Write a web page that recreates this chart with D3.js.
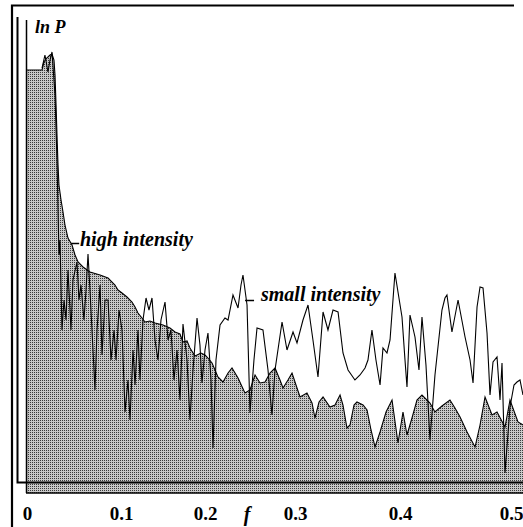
<!DOCTYPE html>
<html><head><meta charset="utf-8">
<script src="https://cdn.jsdelivr.net/npm/d3@7"></script>
<style>
html,body{margin:0;padding:0;background:#fff;}
svg{display:block;}
svg text{font-family:"Liberation Serif","DejaVu Serif",serif !important;}
</style></head>
<body>
<script>
// ---- data ----
const xTicks = [0, 0.1, 0.2, 0.3, 0.4, 0.5];
const xTickLabels = ["0", "0.1", "0.2", "0.3", "0.4", "0.5"];

const highF = [0,.016,.018,.021,.0245,.0266,.0287,.0298,.0309,.0319,.033,.034,.0362,.0383,.0404,.0436,.0479,.0511,.0543,.0596,.067,.0777,.0862,.0936,.0968,
 .1012,.1071,.1131,.1167,.1202,.125,.1286,.1345,.1405,.15,.1583,.1643,.1702,.1738,.1786,.1821,.1881,.1952,
 .2,.2033,.2078,.2144,.22,.2256,.23,.2367,.2444,.25,.2556,.2611,.2667,.2722,.2778,.2833,.2867,.2922,.2967,
 .3019,.3048,.3114,.3162,.319,.3229,.3267,.3333,.3381,.3429,.3457,.3495,.3524,.3562,.359,.3648,.3686,.3724,.3762,.381,.3867,.3924,.3981,
 .4027,.4063,.4108,.4153,.4198,.427,.4315,.4378,.445,.4495,.4541,.4604,.4676,.4721,.4766,.4829,.4874,.4946,.4991,.5063,.5108];
const highLnP = [8.46,8.46,8.62,8.70,8.76,8.78,8.66,8.36,7.76,7.16,6.56,6.16,5.86,5.62,5.36,5.10,4.96,4.76,4.62,4.52,4.42,4.36,4.30,4.16,4.06,
 4.00,3.92,3.82,3.72,3.60,3.50,3.42,3.44,3.40,3.36,3.30,3.22,3.18,3.02,3.04,2.90,2.74,2.80,
 2.76,2.70,2.60,2.32,2.22,2.40,2.50,2.30,2.00,2.06,2.36,2.20,2.22,2.40,2.50,2.26,2.10,2.26,2.40,
 2.10,1.92,2.00,1.80,1.50,1.82,1.92,1.72,1.76,1.96,1.76,1.30,1.36,1.76,1.82,1.76,1.66,1.26,0.92,1.22,1.62,1.86,1.00,
 1.62,1.16,1.50,1.86,1.96,1.80,1.62,1.74,1.86,1.70,1.52,1.22,0.92,1.36,1.92,1.56,1.62,1.32,1.86,1.42,1.36];

const smallF = [.016,.0191,.0223,.0245,.0266,.0298,.0319,.034,.0351,.0372,.0394,.0415,.0436,.0468,.0489,.0532,.0553,.0574,.0606,.0628,.0649,.067,.0702,.0723,.0745,.0777,.0798,.083,.0862,.0894,.0926,.0947,.0979,
 .1012,.1048,.1083,.1107,.1143,.1167,.1202,.1226,.1262,.1298,.1333,.1369,.1405,.144,.1476,.1524,.156,.1595,.1631,.1667,.1702,.1738,.1786,.1821,.1857,.1905,.194,.1964,
 .2,.2033,.2067,.2089,.2122,.2167,.2222,.2256,.2311,.2367,.24,.2422,.2467,.25,.2544,.2578,.2644,.27,.2744,.2778,.2856,.2911,.2978,
 .3019,.3076,.3124,.3171,.3219,.3267,.3314,.3362,.341,.3457,.3505,.3571,.3619,.3667,.3695,.3733,.3771,.381,.3838,.3876,.3905,.3952,
 .4018,.4045,.4063,.409,.4135,.4171,.4198,.4234,.427,.4315,.4378,.4405,.4423,.4468,.4523,.4586,.4631,.4658,.4694,.4721,.4748,.4784,.4811,.4838,.4874,.4901,.4919,.4946,.4991,.5027,.5054,.5081,.5108];
const smallLnP = [8.50,8.76,8.42,8.66,8.82,7.96,6.66,4.76,5.06,3.26,3.86,3.46,4.46,3.26,4.26,4.62,3.86,4.16,3.46,4.06,4.78,4.06,2.86,2.06,3.26,4.16,2.76,3.86,3.86,2.66,3.26,2.66,3.66,
 3.26,1.62,2.26,1.46,2.86,2.16,3.26,2.26,3.46,3.90,3.66,3.90,3.06,2.66,3.46,3.82,3.06,3.26,2.26,2.86,1.86,3.38,2.66,1.46,2.46,3.50,2.96,2.20,
 2.86,3.20,2.26,0.90,2.66,3.36,3.50,3.46,3.96,3.70,4.16,4.36,3.76,1.60,2.66,3.30,3.26,2.46,1.56,2.46,3.42,2.86,3.22,
 3.00,3.46,3.76,3.06,2.32,3.62,3.26,3.66,3.62,2.80,2.46,2.26,2.36,2.50,2.66,3.26,2.66,2.16,2.90,2.80,3.06,4.40,
 3.52,2.66,2.12,3.56,3.12,2.46,3.52,2.56,1.06,2.36,3.66,3.90,3.96,3.22,3.86,3.12,2.66,2.20,3.72,4.12,4.10,3.20,1.96,2.62,2.72,1.86,2.60,0.40,1.72,2.16,2.22,2.26,1.96];

// ---- drawing ----
const FONT = '"Liberation Serif","DejaVu Serif",serif';
const W = 523, H = 527;
const svg = d3.select("body").append("svg").attr("width", W).attr("height", H);
svg.append("rect").attr("width", W).attr("height", H).attr("fill", "#fff");

const defs = svg.append("defs");
const pat = defs.append("pattern").attr("id", "stip").attr("patternUnits", "userSpaceOnUse")
  .attr("width", 2).attr("height", 2);
pat.append("rect").attr("width", 2).attr("height", 2).attr("fill", "#c8c8c8");
pat.append("rect").attr("width", 1).attr("height", 1).attr("fill", "#3a3a3a");

const x = d3.scaleLinear().domain(xTicks).range([27, 121, 205, 295, 400, 511]);
const y = d3.scaleLinear().domain([0, 10]).range([493, -7]);

const high = highF.map((f, i) => [f, highLnP[i]]);
const small = smallF.map((f, i) => [f, smallLnP[i]]);

const area = d3.area().x(d => x(d[0])).y0(y(0)).y1(d => y(d[1]));
const line = d3.line().x(d => x(d[0])).y(d => y(d[1]));

svg.append("path").datum(high).attr("d", area).attr("fill", "url(#stip)");
svg.append("path").datum(high).attr("d", line).attr("fill", "none").attr("stroke", "#000").attr("stroke-width", 1.1);
svg.append("path").datum(small).attr("d", line).attr("fill", "none").attr("stroke", "#000").attr("stroke-width", 1.1);

// frames
const fr = svg.append("g").attr("stroke", "#000").attr("fill", "none");
fr.append("path").attr("d", "M12,527V5.5H514").attr("stroke-width", 2.2);
fr.append("path").attr("d", "M17.5,17V482.5H523").attr("stroke-width", 2);
fr.append("line").attr("x1", x(0) - 0.5).attr("x2", x(0) - 0.5).attr("y1", 20).attr("y2", y(0)).attr("stroke-width", 1.5);
fr.append("line").attr("x1", x(0) - 1).attr("x2", W).attr("y1", y(0)).attr("y2", y(0)).attr("stroke-width", 1.5);

// x axis labels
const ax = svg.append("g").attr("transform", `translate(0,${y(0)})`)
  .call(d3.axisBottom(x).tickValues(xTicks).tickSize(0).tickPadding(14)
    .tickFormat((d, i) => xTickLabels[i]));
ax.attr("font-family", FONT);
ax.select(".domain").remove();
ax.selectAll("text").attr("font-family", FONT)
  .attr("font-size", 19).attr("font-weight", "bold").attr("fill", "#000");

function label(xp, yp, size, txt, anchor) {
  return svg.append("text").attr("x", xp).attr("y", yp).attr("font-family", FONT)
    .attr("font-size", size).attr("font-style", "italic").attr("font-weight", "bold")
    .attr("text-anchor", anchor || "start").attr("fill", "#000").text(txt);
}

label(247, 521, 20, "f", "middle");
label(35, 33, 18, "ln P");

// series labels
svg.append("line").attr("x1", x(0.047)).attr("x2", x(0.047) + 8).attr("y1", 243.5).attr("y2", 243.5)
  .attr("stroke", "#000").attr("stroke-width", 1.5);
label(80, 246, 20, "high intensity");

svg.append("line").attr("x1", x(0.2445)).attr("x2", x(0.2445) + 9).attr("y1", 300.5).attr("y2", 300.5)
  .attr("stroke", "#000").attr("stroke-width", 1.5);
label(261, 301, 20, "small intensity");
</script>
</body></html>
